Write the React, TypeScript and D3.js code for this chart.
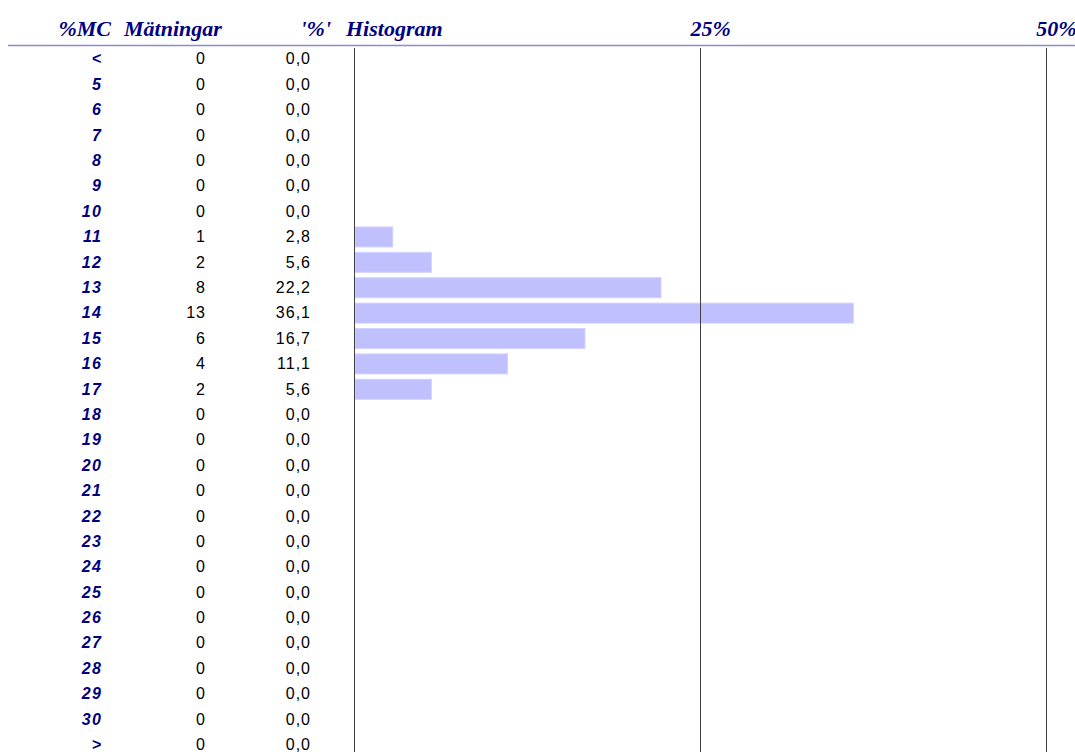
import React from "react";
import * as d3 from "d3";

const categories = ["<", "5", "6", "7", "8", "9", "10", "11", "12", "13", "14", "15", "16", "17", "18", "19", "20", "21", "22", "23", "24", "25", "26", "27", "28", "29", "30", ">"];
const counts = [0, 0, 0, 0, 0, 0, 0, 1, 2, 8, 13, 6, 4, 2, 0, 0, 0, 0, 0, 0, 0, 0, 0, 0, 0, 0, 0, 0];
const percents = [0, 0, 0, 0, 0, 0, 0, 2.8, 5.6, 22.2, 36.1, 16.7, 11.1, 5.6, 0, 0, 0, 0, 0, 0, 0, 0, 0, 0, 0, 0, 0, 0];
const axisTicks = [0, 25, 50];
const headers = ["%MC", "Mätningar", "'%'", "Histogram"];

const W = 1075;
const H = 752;

export default function App() {
  const x = d3.scaleLinear().domain([0, 50]).range([354, 1045.5]);
  const y = d3.scaleLinear().domain([0, categories.length - 1]).range([58.7, 744.3]);
  const fmt = (v: number) => d3.format(".1f")(v).replace(".", ",");
  const serif = "'Liberation Serif', 'Times New Roman', serif";
  const sans = "'Liberation Sans', Arial, sans-serif";
  const navy = "#000080";
  return (
    <svg width={W} height={H} style={{ position: "absolute", left: 0, top: 0, background: "#fff" }}>
      {/* header */}
      <g fontFamily={serif} fontWeight="bold" fontStyle="italic" fontSize={22} fill={navy}>
        <text x={111} y={36} textAnchor="end">{headers[0]}</text>
        <text x={124} y={36}>{headers[1]}</text>
        <text x={331} y={36} textAnchor="end">{headers[2]}</text>
        <text x={346} y={36}>{headers[3]}</text>
        {axisTicks.slice(1).map((t) => (
          <text key={t} x={x(t) + 31} y={36} textAnchor="end">{t}%</text>
        ))}
      </g>
      <line x1={8} x2={W} y1={45.5} y2={45.5} stroke="#8c8ccc" strokeWidth={1.3} />
      {/* bars */}
      {percents.map((p, i) =>
        p > 0 ? (
          <rect key={i} x={x(0) + 1} y={y(i) - 9.5} width={x(p) - x(0) - 1} height={20} fill="#c0c0ff" stroke="#d2d2ff" strokeWidth={1} />
        ) : null
      )}
      {/* axis lines */}
      {axisTicks.map((t) => (
        <line key={t} x1={Math.round(x(t)) + 0.5} x2={Math.round(x(t)) + 0.5} y1={48} y2={H} stroke="#404040" strokeWidth={1} />
      ))}
      {/* rows */}
      {categories.map((c, i) => (
        <g key={c} fontFamily={sans} fontSize={16}>
          <text x={102.5} y={y(i)} dy="0.36em" textAnchor="end" fontWeight="bold" fontStyle="italic" fill={navy} letterSpacing={1.5}>{c}</text>
          <text x={206} y={y(i)} dy="0.36em" textAnchor="end" fill="#000" letterSpacing={1}>{counts[i]}</text>
          <text x={311} y={y(i)} dy="0.36em" textAnchor="end" fill="#000" letterSpacing={1}>{fmt(percents[i])}</text>
        </g>
      ))}
    </svg>
  );
}
